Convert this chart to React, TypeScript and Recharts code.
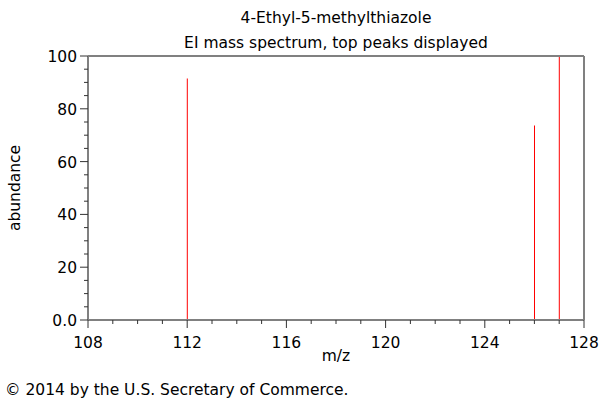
import React from 'react';
import { BarChart, Bar, XAxis, YAxis, ReferenceLine } from 'recharts';

const mz = [112, 126, 127];
const abundance = [91.5, 73.7, 100];
const xTicks = [108, 109, 110, 111, 112, 113, 114, 115, 116, 117, 118, 119, 120, 121, 122, 123, 124, 125, 126, 127, 128];
const xMajor = [108, 112, 116, 120, 124, 128];
const yTicks = [0, 5, 10, 15, 20, 25, 30, 35, 40, 45, 50, 55, 60, 65, 70, 75, 80, 85, 90, 95, 100];
const yMajor = [0, 20, 40, 60, 80, 100];

const title = '4-Ethyl-5-methylthiazole';
const subtitle = 'EI mass spectrum, top peaks displayed';

const data = mz.map((m, i) => ({ mz: m, abundance: abundance[i] }));

const FONT = 'DejaVu Sans, sans-serif';
const FS = 15.5;
const AXIS = '#808080';

function XTick(props: any) {
  const { x, y, payload } = props;
  const major = xMajor.includes(payload.value);
  return (
    <g>
      <line x1={x} y1={y} x2={x} y2={y + (major ? 8 : 4)} stroke="#333" strokeWidth={1} />
      {major && (
        <text x={x} y={y + 28} textAnchor="middle" fontSize={FS} fontFamily={FONT} fill="#000">
          {payload.value}
        </text>
      )}
    </g>
  );
}

function YTick(props: any) {
  const { x, y, payload } = props;
  const major = yMajor.includes(payload.value);
  return (
    <g>
      <line x1={x} y1={y} x2={x - (major ? 8 : 4)} y2={y} stroke="#333" strokeWidth={1} />
      {major && (
        <text x={x - 11} y={y + 6} textAnchor="end" fontSize={FS} fontFamily={FONT} fill="#000">
          {payload.value === 0 ? '0.0' : payload.value}
        </text>
      )}
    </g>
  );
}

export default function App() {
  return (
    <div style={{ position: 'absolute', left: 0, top: 0, width: 600, height: 400, background: '#fff' }}>
      <BarChart
        width={600}
        height={400}
        data={data}
        margin={{ top: 56, right: 16, left: 0, bottom: 0 }}
      >
        <XAxis
          dataKey="mz"
          type="number"
          domain={[108, 128]}
          ticks={xTicks}
          interval={0}
          tick={<XTick />}
          tickLine={false}
          tickSize={0}
          tickMargin={0}
          height={80}
          axisLine={{ stroke: AXIS, strokeWidth: 2 }}
          allowDataOverflow
        />
        <YAxis
          type="number"
          domain={[0, 100]}
          ticks={yTicks}
          interval={0}
          tick={<YTick />}
          tickLine={false}
          tickSize={0}
          tickMargin={0}
          width={88}
          axisLine={{ stroke: AXIS, strokeWidth: 2 }}
        />
        <ReferenceLine y={100} stroke={AXIS} strokeWidth={2} />
        <ReferenceLine x={128} stroke={AXIS} strokeWidth={2} />
        <Bar dataKey="abundance" fill="#ff0000" barSize={1} isAnimationActive={false} />
        <text x={336} y={23} textAnchor="middle" fontSize={FS} fontFamily={FONT} fill="#000">
          {title}
        </text>
        <text x={336} y={48} textAnchor="middle" fontSize={FS} fontFamily={FONT} fill="#000">
          {subtitle}
        </text>
        <text x={336} y={361} textAnchor="middle" fontSize={FS} fontFamily={FONT} fill="#000">
          m/z
        </text>
        <text
          x={20}
          y={188}
          textAnchor="middle"
          fontSize={FS}
          fontFamily={FONT}
          fill="#000"
          transform="rotate(-90 20 188)"
        >
          abundance
        </text>
        <text x={5} y={395} textAnchor="start" fontSize={FS} fontFamily={FONT} fill="#000">
          © 2014 by the U.S. Secretary of Commerce.
        </text>
      </BarChart>
    </div>
  );
}
